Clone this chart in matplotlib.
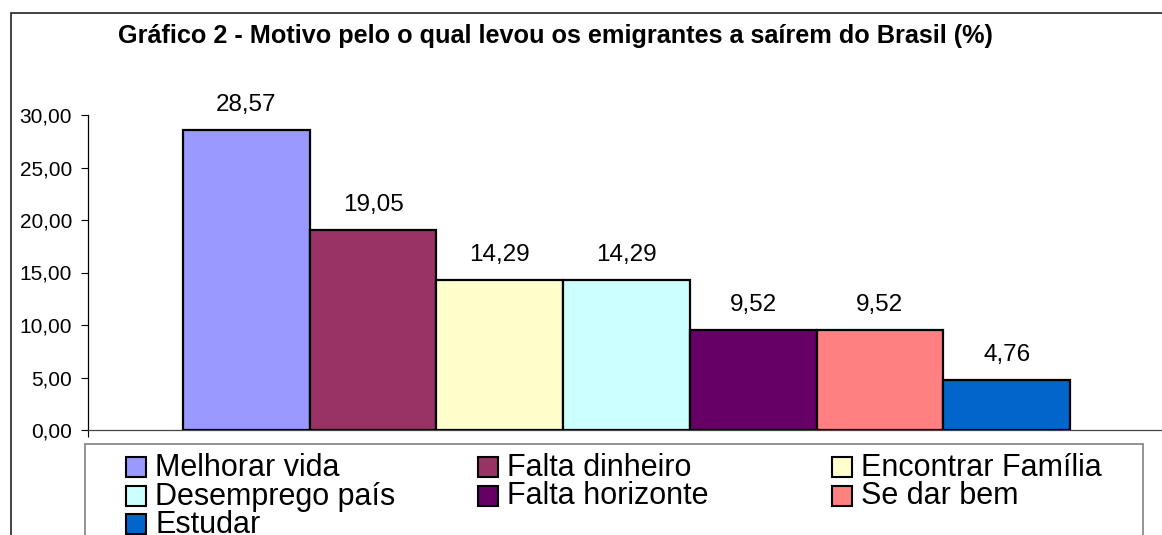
import matplotlib
matplotlib.use("Agg")
import matplotlib.pyplot as plt
from matplotlib.patches import Rectangle
import numpy as np

categories = ["Melhorar vida", "Falta dinheiro", "Encontrar Família",
              "Desemprego país", "Falta horizonte", "Se dar bem", "Estudar"]
values = [28.57, 19.05, 14.29, 14.29, 9.52, 9.52, 4.76]
value_labels = ["28,57", "19,05", "14,29", "14,29", "9,52", "9,52", "4,76"]
colors = ["#9999FF", "#993366", "#FFFFCC", "#CCFFFF", "#660066", "#FF8080", "#0066CC"]
yticks = [0, 5, 10, 15, 20, 25, 30]
ytick_labels = ["0,00", "5,00", "10,00", "15,00", "20,00", "25,00", "30,00"]
title = "Gráfico 2 - Motivo pelo o qual levou os emigrantes a saírem do Brasil (%)"

plt.rcParams['font.family'] = ['Liberation Sans', 'DejaVu Sans']

W, H = 1162, 535
fig = plt.figure(figsize=(W / 100, H / 100), dpi=100)

def fx(x):
    return x / W

def fy(y):
    return 1 - y / H

# outer chart frame (extends beyond right/bottom)
fig.patches.append(Rectangle((fx(11), fy(H + 20)), fx(W + 20 - 11), (H + 20 - 13) / H,
                             transform=fig.transFigure, fill=False,
                             edgecolor="#222222", linewidth=1.2, clip_on=False))

# axes: 0 at y=430, 30 at y=115, left at x=88, width 1077
ax = fig.add_axes([fx(88), fy(430), 1077 / W, 315 / H])
ax.set_facecolor("none")
x = np.arange(len(values))
ax.bar(x, values, width=1.0, color=colors, edgecolor="black", linewidth=1.6, zorder=3)
ax.set_xlim(-0.5 - 0.75, len(values) - 0.5 + 0.75)
ax.set_ylim(0, 30)
ax.set_yticks(yticks)
ax.set_yticklabels(ytick_labels, fontsize=15)
ax.set_xticks([-1.25, len(values) - 0.5 + 0.75])
ax.set_xticklabels([])
ax.tick_params(axis='y', direction='out', length=5, width=0.8, pad=6.5, colors='black')
ax.tick_params(axis='x', direction='out', length=5, width=0.8)
for s in ["top", "right"]:
    ax.spines[s].set_visible(False)
ax.spines["left"].set_linewidth(0.9)
ax.spines["bottom"].set_linewidth(0.9)
ax.spines["bottom"].set_color("#444444")

for xi, v, lab in zip(x, values, value_labels):
    ax.annotate(lab, (xi, v), xytext=(0, 13.5), textcoords="offset points",
                ha="center", va="baseline", fontsize=17.5, color="black")

# title
fig.text(fx(118), fy(43), title, fontsize=18.2, fontweight="bold", ha="left", va="baseline")

# legend box
fig.patches.append(Rectangle((fx(85), fy(H + 20)), fx(1143 - 85), (H + 20 - 444) / H,
                             transform=fig.transFigure, fill=False,
                             edgecolor="#808080", linewidth=1.2, clip_on=False))
col_x = [126, 478, 832]
for i, (cat, col) in enumerate(zip(categories, colors)):
    r, c = divmod(i, 3)
    base = 477 + 28.5 * r
    sx = col_x[c]
    fig.patches.append(Rectangle((fx(sx), fy(base)), fx(20), 20 / H,
                                 transform=fig.transFigure, facecolor=col,
                                 edgecolor="black", linewidth=1.5))
    fig.text(fx(sx + 29), fy(base - 1), cat, fontsize=22, ha="left", va="baseline")

fig.savefig("out.png", dpi=100)
